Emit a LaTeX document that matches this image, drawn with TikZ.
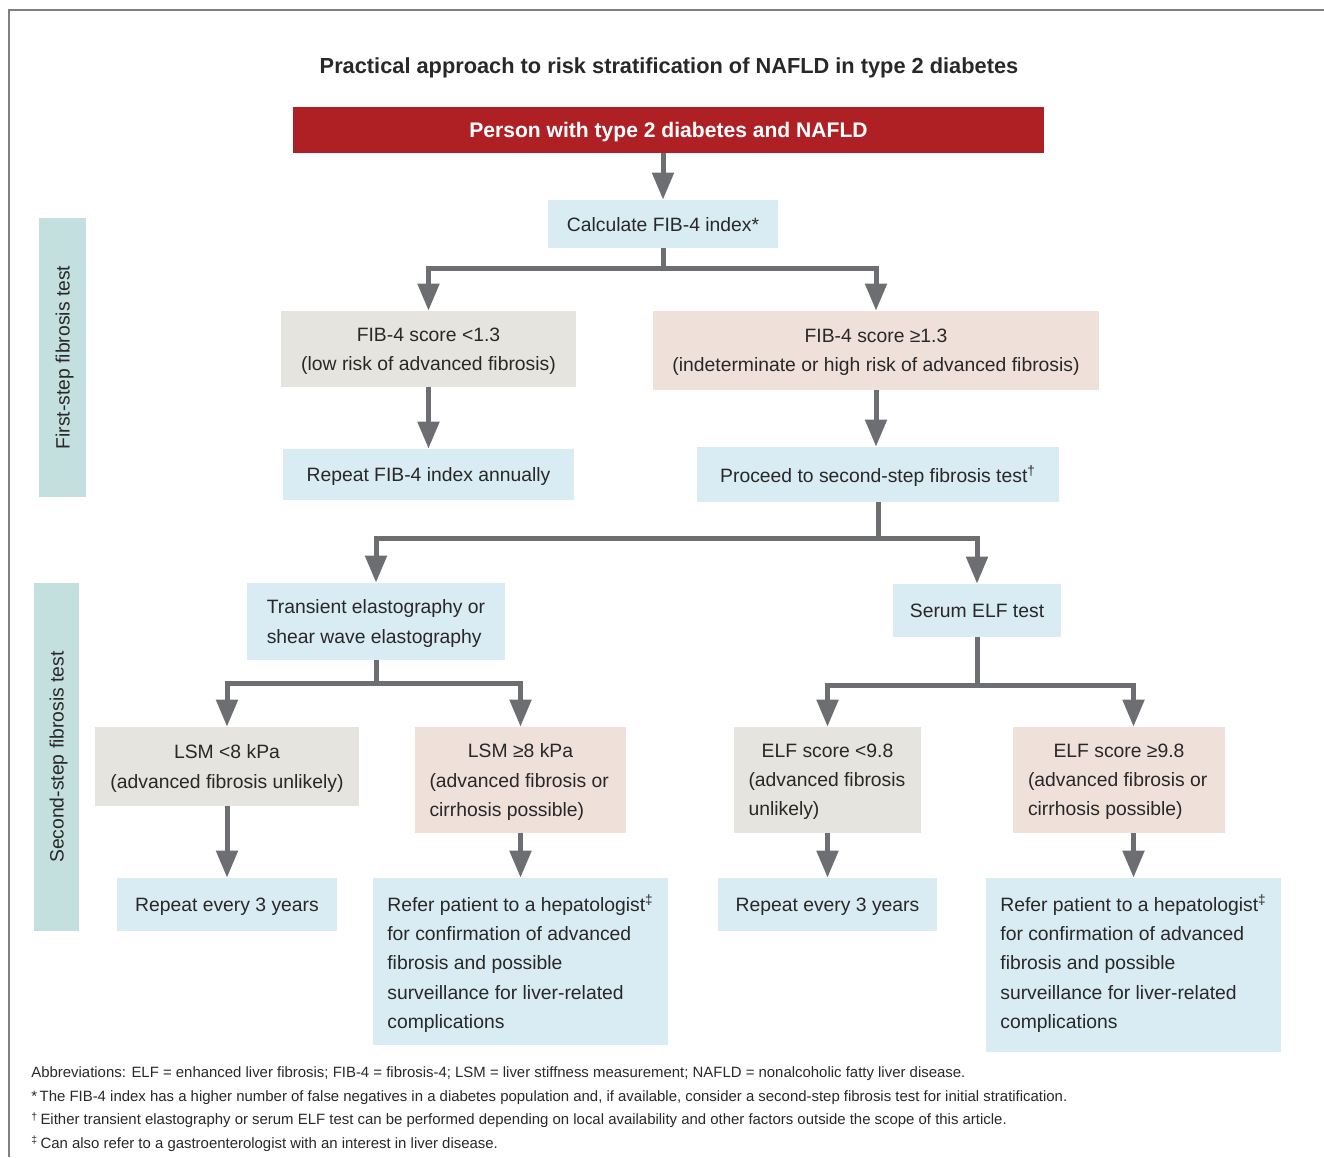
\documentclass[tikz,border=0pt]{standalone}
\usepackage{fontspec}
\setmainfont{Liberation Sans}
\usetikzlibrary{positioning,arrows.meta}

\definecolor{nafldred}{RGB}{175,32,37}
\definecolor{nafldblue}{RGB}{217,235,243}
\definecolor{nafldgray}{RGB}{229,228,222}
\definecolor{nafldpink}{RGB}{240,224,218}
\definecolor{nafldteal}{RGB}{195,224,222}
\definecolor{nafldarrow}{RGB}{109,110,113}
\definecolor{nafldtext}{RGB}{40,40,40}
\definecolor{nafldframe}{RGB}{128,128,128}

\tikzset{
  stepbox/.style={fill=nafldblue, inner sep=0pt, align=center, text=nafldtext,
                  text depth=0pt, font=\fontsize{11}{16.6}\selectfont},
  lowbox/.style={stepbox, fill=nafldgray},
  highbox/.style={stepbox, fill=nafldpink},
  sidebox/.style={stepbox, fill=nafldteal, rotate=90},
  startbox/.style={fill=nafldred, inner sep=0pt, text=white, text depth=0pt,
                   font=\fontsize{12}{14}\selectfont\bfseries},
  flow/.style={draw=nafldarrow, line width=0.1cm,
               -{Triangle[width=0.42cm,length=0.54cm]}},
  notetext/.style={inner sep=0pt, align=left, text=nafldtext,
                   font=\fontsize{8.5}{13.6}\selectfont}
}

\begin{document}
\begin{tikzpicture}[x=0.02cm,y=-0.02cm]
  \useasboundingbox (0,0) rectangle (1324,1157);
  \draw[nafldframe, line width=0.04cm] (9,1157) -- (9,10) -- (1324,10);

  % title and start
  \node[text=nafldtext, font=\fontsize{12.4}{15}\selectfont\bfseries] (title) at (669,68)
    {Practical approach to risk stratification of NAFLD in type 2 diabetes};
  \node[startbox, minimum width=15.02cm, minimum height=0.92cm] (person) at (668.5,130)
    {Person with type 2 diabetes and NAFLD};

  % first step
  \node[sidebox, minimum width=5.58cm, minimum height=0.94cm] (side1) at (62.5,357.5)
    {First-step fibrosis test};
  \node[stepbox, minimum width=4.6cm, minimum height=0.96cm] (calc) at (663,224)
    {Calculate FIB-4 index*};
  \node[lowbox, minimum width=5.9cm, minimum height=1.52cm] (fiblow) at (428.5,349)
    {FIB-4 score <1.3\\(low risk of advanced fibrosis)};
  \node[highbox, minimum width=8.92cm, minimum height=1.58cm] (fibhigh) at (876,350.5)
    {FIB-4 score ≥1.3\\(indeterminate or high risk of advanced fibrosis)};
  \node[stepbox, minimum width=5.82cm, minimum height=1.02cm] (annual) at (428.5,474.5)
    {Repeat FIB-4 index annually};
  \node[stepbox, minimum width=7.26cm, minimum height=1.1cm] (proceed) at (878,474.5)
    {Proceed to second-step fibrosis test\textsuperscript{†}};

  % second step
  \node[sidebox, minimum width=6.96cm, minimum height=0.9cm] (side2) at (56.5,757)
    {Second-step fibrosis test};
  \node[stepbox, align=left, minimum width=5.16cm, minimum height=1.54cm] (elasto) at (376,621.5)
    {Transient elastography or\\shear wave elastography};
  \node[stepbox, minimum width=3.36cm, minimum height=1.06cm] (serum) at (977,610.5)
    {Serum ELF test};
  \node[lowbox, minimum width=5.3cm, minimum height=1.58cm] (lsmlow) at (227,766.5)
    {LSM <8 kPa\\(advanced fibrosis unlikely)};
  \node[highbox, align=left, minimum width=4.24cm, minimum height=2.12cm] (lsmhigh) at (520.5,780)
    {\makebox[3.64cm]{LSM ≥8 kPa}\\(advanced fibrosis or\\cirrhosis possible)};
  \node[lowbox, align=left, minimum width=3.76cm, minimum height=2.12cm] (elflow) at (827.5,780)
    {\makebox[3.16cm]{ELF score <9.8}\\(advanced fibrosis\\unlikely)};
  \node[highbox, align=left, minimum width=4.24cm, minimum height=2.12cm] (elfhigh) at (1119,780)
    {\makebox[3.64cm]{ELF score ≥9.8}\\(advanced fibrosis or\\cirrhosis possible)};
  \node[stepbox, minimum width=4.4cm, minimum height=1.06cm] (every1) at (227,904.5)
    {Repeat every 3 years};
  \node[stepbox, align=left, minimum width=5.9cm, minimum height=3.34cm] (refer1) at (520.5,961.5)
    {Refer patient to a hepatologist\textsuperscript{‡}\\for confirmation of advanced\\fibrosis and possible\\surveillance for liver-related\\complications};
  \node[stepbox, minimum width=4.4cm, minimum height=1.06cm] (every2) at (827.5,904.5)
    {Repeat every 3 years};
  \node[stepbox, align=left, minimum width=5.9cm, minimum height=3.48cm, text depth=0.14cm] (refer2) at (1133.5,965)
    {Refer patient to a hepatologist\textsuperscript{‡}\\for confirmation of advanced\\fibrosis and possible\\surveillance for liver-related\\complications};

  % connectors
  \draw[flow] (person.south -| calc.north) -- (calc.north);
  \draw[flow] (calc.south) -- ++(0,20) -| (fiblow.north);
  \draw[flow] (calc.south) -- ++(0,20) -| (fibhigh.north);
  \draw[flow] (fiblow) -- (annual);
  \draw[flow] (fibhigh.south) -- (fibhigh.south |- proceed.north);
  \draw[flow] (proceed.south) -- ++(0,36) -| (elasto.north);
  \draw[flow] (proceed.south) -- ++(0,36) -| (serum.north);
  \draw[flow] (elasto.south) -- ++(0,23) -| (lsmlow.north);
  \draw[flow] (elasto.south) -- ++(0,23) -| (lsmhigh.north);
  \draw[flow] (serum.south) -- ++(0,48) -| (elflow.north);
  \draw[flow] (serum.south) -- ++(0,48) -| (elfhigh.north -| refer2.north);
  \draw[flow] (lsmlow) -- (every1);
  \draw[flow] (lsmhigh) -- (refer1);
  \draw[flow] (elflow) -- (every2);
  \draw[flow] (elfhigh.south -| refer2.north) -- (refer2);

  % footnotes
  \node[notetext, anchor=north west] (notes) at (31,1066)
    {Abbreviations: ELF = enhanced liver fibrosis; FIB-4 = fibrosis-4; LSM = liver stiffness measurement; NAFLD = nonalcoholic fatty liver disease.\\
     *\,The FIB-4 index has a higher number of false negatives in a diabetes population and, if available, consider a second-step fibrosis test for initial stratification.\\
     \textsuperscript{†}\,Either transient elastography or serum ELF test can be performed depending on local availability and other factors outside the scope of this article.\\
     \textsuperscript{‡}\,Can also refer to a gastroenterologist with an interest in liver disease.};
\end{tikzpicture}
\end{document}
